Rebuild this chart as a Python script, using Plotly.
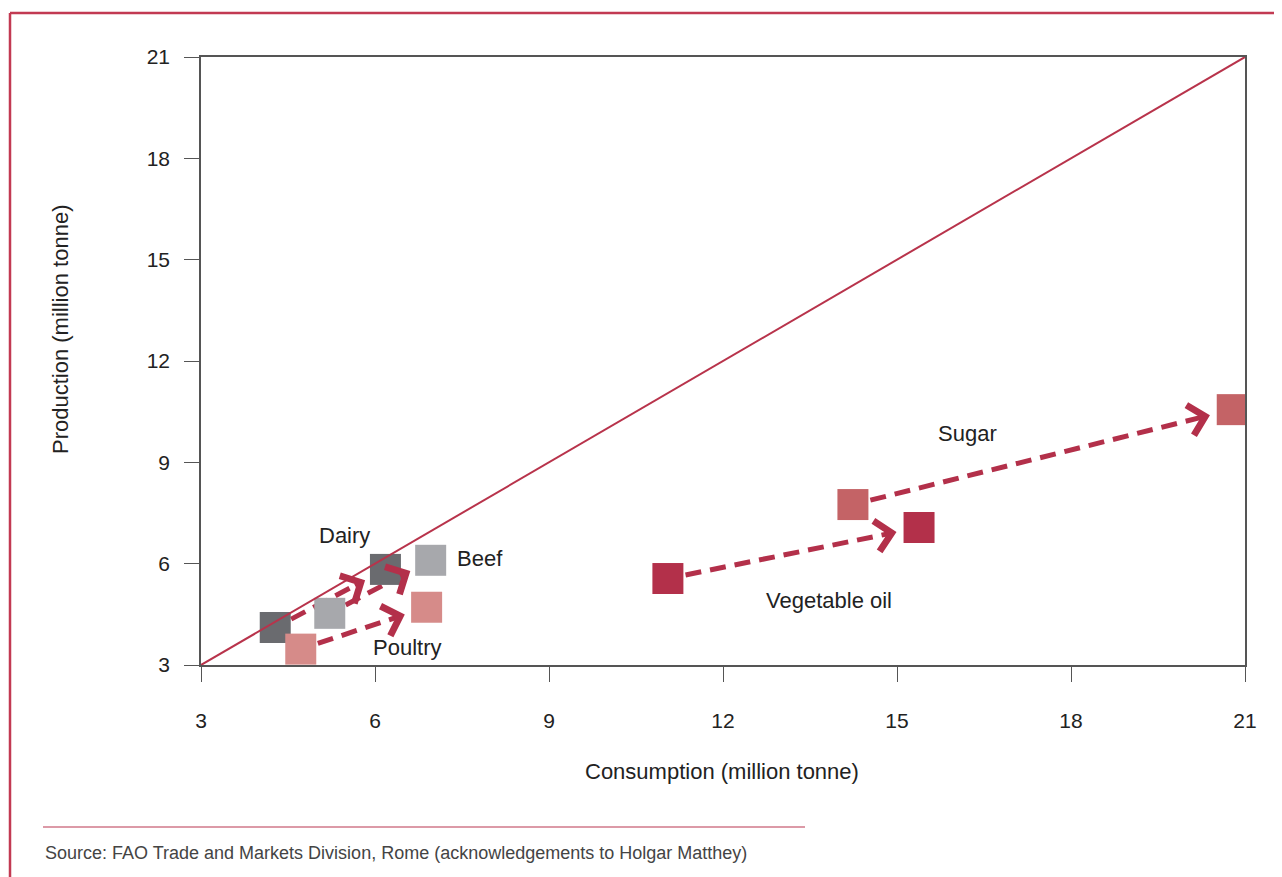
import math
import plotly.graph_objects as go

# ---------------- data ----------------
products = ["Dairy", "Beef", "Poultry", "Sugar", "Vegetable oil"]
cons_start = [4.28, 5.22, 4.72, 14.24, 11.05]
prod_start = [4.11, 4.53, 3.47, 7.75, 5.56]
cons_end = [6.18, 6.96, 6.89, 20.78, 15.38]
prod_end = [5.83, 6.10, 4.71, 10.56, 7.07]
marker_colors = ["#6a6b6f", "#a7a8ac", "#d68b89", "#c46366", "#b3304a"]

label_x = [5.48, 7.38, 6.55, 16.22, 13.83]
label_y = [6.82, 6.14, 3.53, 9.84, 4.92]
label_anchor = ["center", "left", "center", "center", "center"]

tick_vals = [3, 6, 9, 12, 15, 18, 21]
axis_min, axis_max = 3, 21

x_title = "Consumption (million tonne)"
y_title = "Production (million tonne)"
source_text = "Source: FAO Trade and Markets Division, Rome (acknowledgements to Holgar Matthey)"

# ---------------- layout constants ----------------
OFF = 8  # page body margin
W, H = 1282 - OFF, 877 - OFF
PLOT_L, PLOT_R, PLOT_T, PLOT_B = 201, 1245, 57, 665  # page pixels
ML, MT = PLOT_L - OFF, PLOT_T - OFF
MR = W - (PLOT_R - OFF)
MB = H - (PLOT_B - OFF)
PW, PH = PLOT_R - PLOT_L, PLOT_B - PLOT_T
kx = PW / (axis_max - axis_min)
ky = PH / (axis_max - axis_min)

ARROW = "#b3304a"
RED_BORDER = "#c23a52"
FONT = "Liberation Sans, Arial, sans-serif"
TXT = "#222222"


def px_x(p):
    return (p - PLOT_L) / PW


def px_y(p):
    return (PLOT_B - p) / PH


fig = go.Figure()

# dashed arrow shafts + chevron heads
annotations = []
for i, name in enumerate(products):
    xs, ys, xe, ye = cons_start[i], prod_start[i], cons_end[i], prod_end[i]
    dxp = (xe - xs) * kx
    dyp = (ye - ys) * ky
    L = math.hypot(dxp, dyp)
    ux, uy = dxp / L, dyp / L
    s0, s1 = 18, 23
    tx, ty = xs + ux * s0 / kx, ys + uy * s0 / ky
    hx, hy = xe - ux * s1 / kx, ye - uy * s1 / ky
    lx, ly = xe - ux * (s1 + 3) / kx, ye - uy * (s1 + 3) / ky
    fig.add_trace(go.Scatter(
        x=[tx, lx], y=[ty, ly], mode="lines",
        line=dict(color=ARROW, width=5, dash="16px,9px"),
        hoverinfo="skip", showlegend=False,
    ))
    bx, by = hx - ux * 12 / kx, hy - uy * 12 / ky
    annotations.append(dict(
        x=hx, y=hy, ax=bx, ay=by, xref="x", yref="y", axref="x", ayref="y",
        text="", showarrow=True, arrowhead=4, arrowsize=1.5, arrowwidth=4,
        arrowcolor=ARROW, font=dict(size=1), borderpad=0,
    ))

# markers
for i, name in enumerate(products):
    fig.add_trace(go.Scatter(
        x=[cons_start[i], cons_end[i]], y=[prod_start[i], prod_end[i]],
        mode="markers", name=name,
        marker=dict(symbol="square", size=31, color=marker_colors[i], line=dict(width=0)),
        showlegend=False,
    ))

# 45-degree line
fig.add_trace(go.Scatter(
    x=[axis_min, axis_max], y=[axis_min, axis_max], mode="lines",
    line=dict(color="#b8334b", width=2), hoverinfo="skip", showlegend=False,
))

# product labels
for i, name in enumerate(products):
    annotations.append(dict(
        x=label_x[i], y=label_y[i], xref="x", yref="y", text=name,
        showarrow=False, xanchor=label_anchor[i], yanchor="middle",
        font=dict(family=FONT, size=22, color=TXT),
    ))

# axis titles and source
annotations.append(dict(
    x=px_x(722), y=px_y(771), xref="paper", yref="paper", text=x_title,
    showarrow=False, xanchor="center", yanchor="middle",
    font=dict(family=FONT, size=22, color=TXT),
))
annotations.append(dict(
    x=px_x(60), y=px_y(330), xref="paper", yref="paper", text=y_title,
    showarrow=False, xanchor="center", yanchor="middle", textangle=-90,
    font=dict(family=FONT, size=22, color=TXT),
))
annotations.append(dict(
    x=px_x(43), y=px_y(853), xref="paper", yref="paper", text=source_text,
    showarrow=False, xanchor="left", yanchor="middle",
    font=dict(family=FONT, size=18, color="#444444"),
))

shapes = [
    # outer border (top and left)
    dict(type="line", xref="paper", yref="paper", x0=px_x(10), x1=px_x(1300),
         y0=px_y(13), y1=px_y(13), line=dict(color=RED_BORDER, width=2.5)),
    dict(type="line", xref="paper", yref="paper", x0=px_x(10), x1=px_x(10),
         y0=px_y(13), y1=px_y(900), line=dict(color=RED_BORDER, width=2.5)),
    # source separator
    dict(type="line", xref="paper", yref="paper", x0=px_x(43), x1=px_x(805),
         y0=px_y(827), y1=px_y(827), line=dict(color="#d0788a", width=1.5)),
]

axis_common = dict(
    range=[axis_min, axis_max], tickvals=tick_vals,
    ticktext=[str(v) for v in tick_vals],
    showgrid=False, zeroline=False, showline=True, linecolor="#555555",
    linewidth=1.5, mirror=True, ticks="outside", ticklen=15, tickwidth=1.2,
    tickcolor="#555555", tickfont=dict(family=FONT, size=21, color=TXT),
)

fig.update_layout(
    width=W, height=H,
    margin=dict(l=ML, r=MR, t=MT, b=MB, pad=0),
    paper_bgcolor="white", plot_bgcolor="white",
    xaxis=dict(**axis_common, ticklabelstandoff=21),
    yaxis=dict(**axis_common, ticklabelstandoff=10),
    annotations=annotations, shapes=shapes,
    showlegend=False,
)

fig.write_html("out.html")
